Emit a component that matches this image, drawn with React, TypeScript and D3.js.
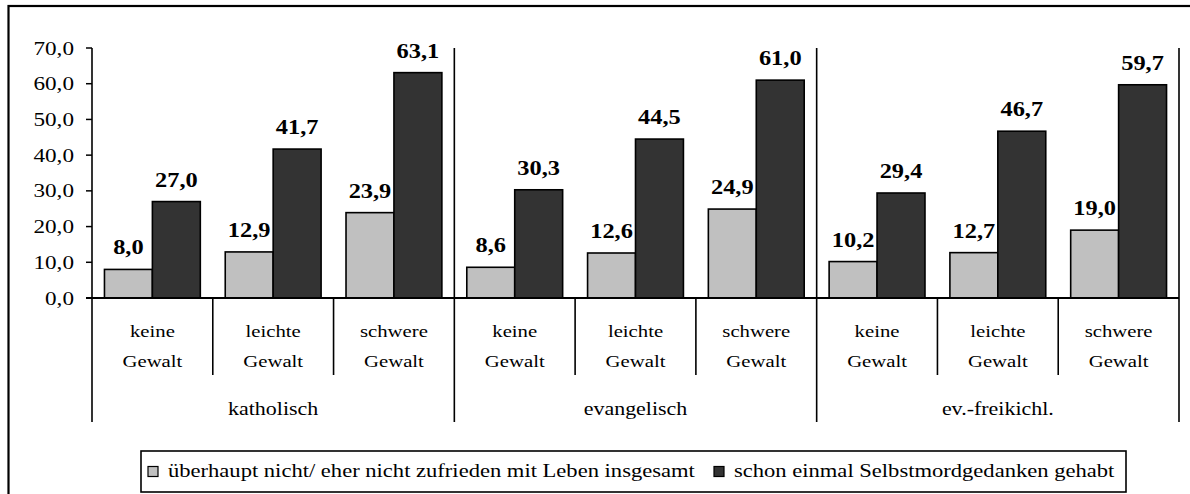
import * as d3 from "d3";

const groups = ["katholisch", "evangelisch", "ev.-freikichl."];
const levels = ["keine", "leichte", "schwere"];
const seriesNames = [
  "überhaupt nicht/ eher nicht zufrieden mit Leben insgesamt",
  "schon einmal Selbstmordgedanken gehabt",
];
const seriesColors = ["#c0c0c0", "#333333"];
// one value per category, group-major (katholisch keine, leichte, schwere, evangelisch ...)
const unzufrieden = [8.0, 12.9, 23.9, 8.6, 12.6, 24.9, 10.2, 12.7, 19.0];
const suizid = [27.0, 41.7, 63.1, 30.3, 44.5, 61.0, 29.4, 46.7, 59.7];
const yTicks = [0, 10, 20, 30, 40, 50, 60, 70];

const W = 1190;
const H = 494;
const FONT = "Liberation Serif";
// the source picture is stretched sideways; mimic it on the text
const SX = 1.22;

const fmt = (v: number) => d3.format(".1f")(v).replace(".", ",");

const left = 92;
const right = 1179;
const top = 48;
const base = 298;
const catBottom = 375;
const groupBottom = 422;

const cats = groups.flatMap((g) => levels.map((l) => `${g}|${l}`));
const x = d3.scaleBand().domain(cats).range([left, right]).padding(0);
const xs = d3
  .scaleBand()
  .domain(["0", "1"])
  .range([0, x.bandwidth()])
  .paddingInner(0)
  .paddingOuter(0.26);
const y = d3.scaleLinear().domain([0, 70]).range([base, top]);

const T = ({
  x: tx,
  y: ty,
  size,
  anchor = "middle",
  bold = false,
  children,
}: {
  x: number;
  y: number;
  size: number;
  anchor?: "start" | "middle" | "end";
  bold?: boolean;
  children: string;
}) => (
  <text
    transform={`translate(${tx},${ty}) scale(${SX},1)`}
    textAnchor={anchor}
    fontSize={size}
    fontWeight={bold ? "bold" : undefined}
    fill="#000"
    style={{ fontFamily: FONT }}
  >
    {children}
  </text>
);

const line = { stroke: "#000", strokeWidth: 1.6 };

const App = () => {
  const series = [unzufrieden, suizid];
  const legendItems = [
    { sx: 148, tx: 168 },
    { sx: 714, tx: 734 },
  ];
  return (
    <svg
      width={W}
      height={H}
      style={{ position: "absolute", left: 0, top: 0, background: "#fff" }}
    >
      {/* outer frame, cut off at right/bottom like the source */}
      <rect x={8.5} y={6} width={W + 20} height={H + 20} fill="#fff" stroke="#000" strokeWidth={2.2} />

      {yTicks.map((t) => (
        <g key={t}>
          <line x1={left - 6} x2={left} y1={y(t)} y2={y(t)} stroke="#000" strokeWidth={1.5} />
          <T x={left - 18} y={y(t) + 6.5} size={19} anchor="end">
            {fmt(t)}
          </T>
        </g>
      ))}

      {series.map((vals, si) =>
        vals.map((v, i) => {
          const bx = x(cats[i])! + xs(String(si))!;
          return (
            <g key={`${si}-${i}`}>
              <rect
                x={bx}
                y={y(v)}
                width={xs.bandwidth()}
                height={base - y(v)}
                fill={seriesColors[si]}
                {...line}
              />
              <T x={bx + xs.bandwidth() / 2} y={y(v) - 15} size={20} bold>
                {fmt(v)}
              </T>
            </g>
          );
        }),
      )}

      <line x1={left} x2={left} y1={top} y2={groupBottom} {...line} />
      <line x1={left - 6} x2={right} y1={base} y2={base} stroke="#000" strokeWidth={2} />
      {cats.slice(1).map((c, j) => {
        const isGroup = (j + 1) % levels.length === 0;
        return (
          <line
            key={c}
            x1={x(c)!}
            x2={x(c)!}
            y1={isGroup ? top : base}
            y2={isGroup ? groupBottom : catBottom}
            {...line}
          />
        );
      })}
      <line x1={right} x2={right} y1={top} y2={groupBottom} {...line} />

      {cats.map((c, i) => {
        const cx = x(c)! + x.bandwidth() / 2;
        return (
          <g key={c}>
            <T x={cx} y={337} size={17}>
              {levels[i % levels.length]}
            </T>
            <T x={cx} y={366.5} size={17}>
              Gewalt
            </T>
          </g>
        );
      })}
      {groups.map((g, gi) => {
        const x0 = x(cats[gi * levels.length])!;
        const x1 = x(cats[gi * levels.length + levels.length - 1])! + x.bandwidth();
        return (
          <T key={g} x={(x0 + x1) / 2} y={415} size={18}>
            {g}
          </T>
        );
      })}

      <rect x={141} y={451} width={985} height={41} fill="#fff" {...line} />
      {legendItems.map((it, i) => (
        <g key={i}>
          <rect
            x={it.sx}
            y={466.5}
            width={10}
            height={10}
            fill={seriesColors[i]}
            stroke="#000"
            strokeWidth={1.2}
          />
          <T x={it.tx} y={477} size={18.5} anchor="start">
            {seriesNames[i]}
          </T>
        </g>
      ))}
    </svg>
  );
};

export default App;
